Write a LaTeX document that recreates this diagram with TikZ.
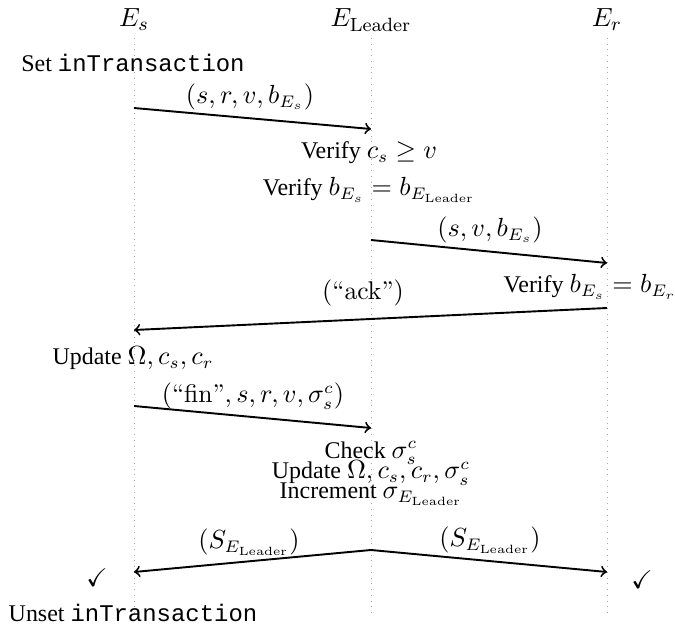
\documentclass[tikz,border=0pt]{standalone}
\usepackage{amsmath,amssymb}
\usepackage[no-math]{fontspec}
\setmainfont{Liberation Serif}[Scale=0.935]
\setmonofont{Liberation Mono}[Scale=0.935]
\newcommand\cmtxt[1]{\text{\fontfamily{lmr}\selectfont #1}}
\newcommand\Ld{\mathrm{Leader}}
\begin{document}
\begin{tikzpicture}[x=0.418pt,y=-0.418pt,
  lifeline/.style={gray!70,dotted,line width=0.4pt},
  msg/.style={->,thick},
  head/.style={inner sep=0pt,font=\fontsize{11.2}{13}\selectfont},
  txt/.style={inner sep=0pt,font=\fontsize{10.7}{12}\selectfont},
  lbl/.style={inner sep=0pt,font=\fontsize{10.7}{12}\selectfont}]
\useasboundingbox (0,0) rectangle (675,629);
% headers
\node[head] (hs) at (134,20) {$E_s$};
\node[head] (hl) at (371,20) {$E_{\Ld}$};
\node[head] (hr) at (607,20) {$E_r$};
% lifelines
\coordinate (ts) at (134,38); \coordinate (bs) at (134,615);
\coordinate (tl) at (371,38); \coordinate (bl) at (371,615);
\coordinate (tr) at (607,38); \coordinate (br) at (607,615);
\draw[lifeline] (ts) -- (bs);
\draw[lifeline] (tl) -- (bl);
\draw[lifeline] (tr) -- (br);
% texts
\node[txt] (set) at (133,63) {Set \texttt{inTransaction}};
\node[txt] (v1) at (369,153) {Verify $c_s \geq v$};
\node[txt] (v2) at (369,190) {Verify $b_{E_s} = b_{E_{\Ld}}$};
\node[txt] (v3) at (590,287) {Verify $b_{E_s} = b_{E_r}$};
\node[txt] (up1) at (133,358) {Update $\Omega, c_s, c_r$};
\node[txt] (chk) at (371,453) {Check $\sigma_s^c$};
\node[txt] (up2) at (371,473) {Update $\Omega, c_s, c_r, \sigma_s^c$};
\node[txt] (inc) at (371,494) {Increment $\sigma_{E_{\Ld}}$};
\node[txt] (ckl) at (97,578) {$\checkmark$};
\node[txt] (ckr) at (642,580) {$\checkmark$};
\node[txt] (unset) at (133,613) {Unset \texttt{inTransaction}};
% message endpoints
\coordinate (m1a) at (134,108); \coordinate (m1b) at (371,129);
\coordinate (m2a) at (371,240); \coordinate (m2b) at (607,263);
\coordinate (m3a) at (607,308); \coordinate (m3b) at (134,330);
\coordinate (m4a) at (134,406); \coordinate (m4b) at (371,428);
\coordinate (m5a) at (371,550); \coordinate (m5b) at (134,572);
\coordinate (m6b) at (607,572);
% messages
\draw[msg] (m1a) -- (m1b);
\draw[msg] (m2a) -- (m2b);
\draw[msg] (m3a) -- (m3b);
\draw[msg] (m4a) -- (m4b);
\draw[msg] (m5a) -- (m5b);
\draw[msg] (m5a) -- (m6b);
% labels
\node[lbl] (l1) at (250,97) {$(s, r, v, b_{E_s})$};
\node[lbl] (l2) at (490,230) {$(s, v, b_{E_s})$};
\node[lbl] (l3) at (363,293) {$(\cmtxt{``ack''})$};
\node[lbl] (l4) at (253,396) {$(\cmtxt{``fin''}, s, r, v, \sigma_s^c)$};
\node[lbl] (l5) at (249,542) {$(S_{E_{\Ld}})$};
\node[lbl] (l6) at (490,540) {$(S_{E_{\Ld}})$};
\end{tikzpicture}
\end{document}
